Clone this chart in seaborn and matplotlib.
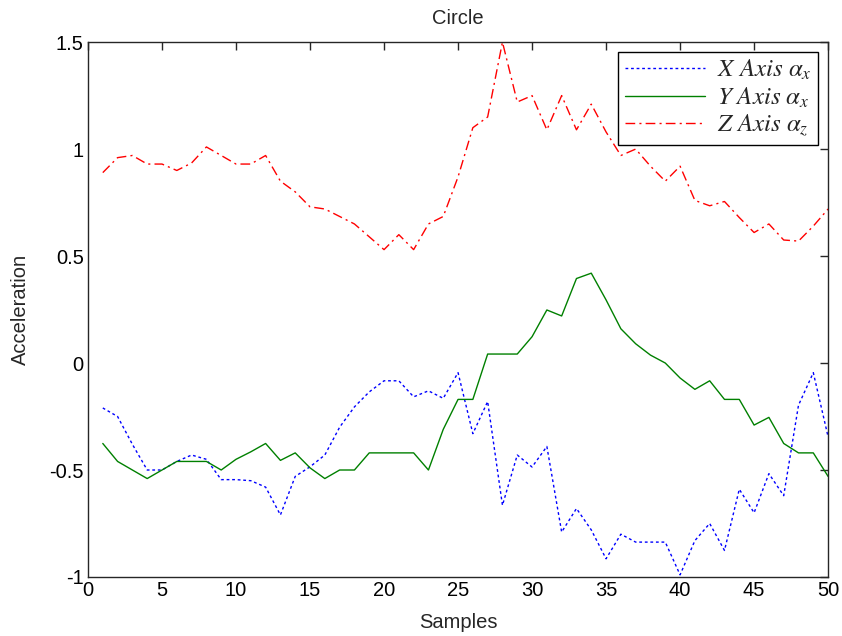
import numpy as np
import pandas as pd
import matplotlib
matplotlib.use("Agg")
import matplotlib.pyplot as plt
import seaborn as sns

# samples 1..50
samples = list(range(1, 51))

x_axis = [-0.21, -0.25, -0.38, -0.50, -0.50, -0.46, -0.43, -0.45, -0.545, -0.545,
          -0.55, -0.58, -0.71, -0.53, -0.485, -0.43, -0.30, -0.205, -0.135, -0.083,
          -0.083, -0.158, -0.13, -0.165, -0.045, -0.33, -0.18, -0.665, -0.43, -0.486,
          -0.39, -0.79, -0.68, -0.78, -0.915, -0.80, -0.837, -0.837, -0.837, -0.99,
          -0.83, -0.75, -0.876, -0.59, -0.70, -0.517, -0.62, -0.197, -0.045, -0.345]

y_axis = [-0.376, -0.46, -0.50, -0.54, -0.50, -0.46, -0.46, -0.46, -0.50, -0.45,
          -0.415, -0.376, -0.455, -0.42, -0.49, -0.54, -0.50, -0.50, -0.42, -0.42,
          -0.42, -0.42, -0.50, -0.31, -0.17, -0.17, 0.042, 0.042, 0.042, 0.123,
          0.248, 0.22, 0.395, 0.42, 0.295, 0.16, 0.09, 0.037, 0.0, -0.07,
          -0.123, -0.083, -0.17, -0.17, -0.29, -0.254, -0.376, -0.42, -0.42, -0.53]

z_axis = [0.89, 0.96, 0.97, 0.93, 0.93, 0.90, 0.935, 1.01, 0.97, 0.93,
          0.93, 0.97, 0.85, 0.80, 0.73, 0.72, 0.685, 0.65, 0.59, 0.53,
          0.60, 0.53, 0.65, 0.685, 0.87, 1.10, 1.15, 1.50, 1.22, 1.25,
          1.09, 1.25, 1.09, 1.21, 1.08, 0.97, 1.00, 0.92, 0.85, 0.92,
          0.76, 0.735, 0.755, 0.68, 0.61, 0.65, 0.575, 0.57, 0.64, 0.72]

labels = [r"$X\ Axis\ \alpha_x$", r"$Y\ Axis\ \alpha_x$", r"$Z\ Axis\ \alpha_z$"]

df = pd.DataFrame({"Samples": samples, "X": x_axis, "Y": y_axis, "Z": z_axis})

sns.set_style("white")
plt.rcParams["font.family"] = ["Liberation Sans", "DejaVu Sans"]
plt.rcParams["mathtext.fontset"] = "stix"

fig = plt.figure(figsize=(8.42, 6.36), dpi=100)
ax = fig.add_axes([0.1045, 0.0928, 0.879, 0.841])

sns.lineplot(data=df, x="Samples", y="X", ax=ax, color="#0000ff", lw=1.0,
             linestyle=(0, (2, 2)), label=labels[0])
sns.lineplot(data=df, x="Samples", y="Y", ax=ax, color="#008000", lw=1.0,
             linestyle="-", label=labels[1])
sns.lineplot(data=df, x="Samples", y="Z", ax=ax, color="#ff0000", lw=1.0,
             linestyle=(0, (7, 3, 1.5, 3)), label=labels[2])

ax.set_xlim(0, 50)
ax.set_ylim(-1, 1.5)
ax.set_xticks(np.arange(0, 51, 5))
ax.set_yticks([-1, -0.5, 0, 0.5, 1, 1.5])
ax.set_yticklabels(["-1", "-0.5", "0", "0.5", "1", "1.5"])
ax.tick_params(direction="in", length=6, width=1, top=True, right=True,
               labelsize=14.5, colors="#262626", labelcolor="black", pad=3)
for s in ax.spines.values():
    s.set_color("#262626")
    s.set_linewidth(1.0)

ax.set_title("Circle", fontsize=14.5, pad=13)
ax.set_xlabel("Samples", fontsize=14.5, labelpad=9)
ax.set_ylabel("Acceleration", fontsize=14.5, labelpad=14)

leg = ax.legend(loc="upper right", fontsize=18, frameon=True, fancybox=False,
                edgecolor="black", framealpha=1, handlelength=3.2,
                handletextpad=0.5, borderpad=0.25, labelspacing=0.12,
                borderaxespad=0, bbox_to_anchor=(0.9865, 0.982))
leg.get_frame().set_linewidth(1.0)

fig.savefig("out.png", dpi=100)
